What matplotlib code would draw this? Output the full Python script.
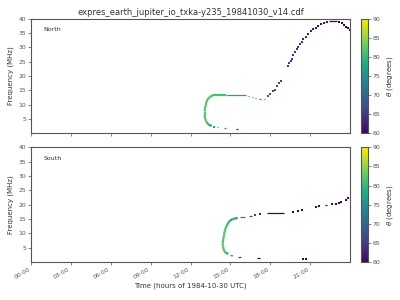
import numpy as np
import matplotlib
matplotlib.use('Agg')
import matplotlib.pyplot as plt
from matplotlib.collections import LineCollection
from matplotlib import colors, cm

title = 'expres_earth_jupiter_io_txka-y235_19841030_v14.cdf'
hour_ticks = [0, 3, 6, 9, 12, 15, 18, 21]
hour_labels = ['00:00', '03:00', '06:00', '09:00', '12:00', '15:00', '18:00', '21:00']
freq_ticks = [5, 10, 15, 20, 25, 30, 35, 40]
theta_ticks = [60, 65, 70, 75, 80, 85, 90]

# North: time (hours), frequency (MHz), theta (deg), run id (same id = connected)
north_time = [13.60, 13.39, 13.30, 13.22, 13.15, 13.09, 13.07, 13.07, 13.09, 13.15,
              13.19, 13.27, 13.34, 13.47, 13.60, 13.79, 14.67,
              14.67, 16.16,
              13.79, 14.00, 14.10, 14.55, 14.65, 15.40, 15.60,
              16.30, 16.42, 16.60, 16.70, 16.86, 16.96, 17.18, 17.28, 17.52, 17.60,
              17.81, 17.98, 18.23, 18.36, 18.53, 18.66, 18.79,
              19.36, 19.44, 19.54, 19.64, 19.74, 19.87, 19.99, 20.11, 20.24, 20.37,
              20.49, 20.67, 20.87, 21.07, 21.24, 21.44, 21.62, 21.82, 22.05, 22.25,
              22.45, 23.00,
              23.18, 23.38, 23.55, 23.70, 23.88, 24.00]
north_freq = [2.56, 2.90, 3.26, 3.85, 4.40, 5.25, 6.40, 7.56, 8.75, 9.90,
              10.85, 11.66, 12.25, 12.70, 13.16, 13.40, 13.40,
              13.40, 13.40,
              2.31, 2.10, 2.10, 1.86, 1.86, 1.50, 1.50,
              12.95, 12.95, 12.60, 12.60, 12.25, 12.25, 11.90, 11.90, 12.00, 12.00,
              13.15, 13.65, 14.90, 15.15, 16.55, 17.50, 18.30,
              23.66, 24.50, 25.30, 26.10, 27.20, 28.35, 29.40, 30.30, 31.26, 32.06,
              32.90, 33.70, 34.76, 35.70, 36.40, 36.96, 37.56, 38.15, 38.60, 38.85,
              39.20, 39.20,
              38.85, 38.50, 38.00, 37.30, 36.75, 36.05]
north_theta = [77, 78, 80, 81, 82, 82, 82, 82, 82, 82,
               82, 82, 82, 81, 81, 81, 81,
               78, 77,
               77, 77, 77, 76, 76, 63, 63,
               76, 76, 75, 75, 74, 74, 73, 73, 71, 71,
               69, 68, 67, 67, 66, 66, 66,
               65, 65, 65, 65, 64, 64, 64, 64, 64, 63,
               63, 63, 62, 62, 62, 61, 61, 61, 61, 61,
               60, 60,
               60, 60, 60, 60, 60, 60]
north_run = [0] * 17 + [1] * 2 + [2, 3, 3, 4, 4, 5, 5] + \
            [6, 6, 7, 7, 8, 8, 9, 9, 10, 10] + list(range(11, 18)) + \
            list(range(18, 38)) + [38, 38] + list(range(39, 45))

# South
south_time = [14.85, 14.72, 14.60, 14.50, 14.45, 14.42, 14.45, 14.50, 14.55, 14.60,
              14.67, 14.75, 14.85, 14.97, 15.15, 15.30, 15.55,
              15.75, 16.10, 16.43, 16.60, 16.85, 17.23,
              17.78, 19.03,
              19.74, 20.11, 20.41, 21.42, 21.70, 22.10, 22.25, 22.67, 22.95, 23.18,
              23.33, 23.70, 23.88,
              15.00, 15.20, 15.55, 15.80, 16.98, 17.23, 20.49, 20.69]
south_freq = [2.89, 3.13, 3.48, 4.28, 5.43, 6.60, 7.76, 8.90, 10.10, 11.23,
              12.17, 12.97, 13.80, 14.47, 14.95, 15.17, 15.40,
              15.65, 15.65, 16.10, 16.10, 16.35, 16.70,
              17.04, 17.04,
              17.40, 17.73, 18.08, 19.23, 19.58, 19.93, 19.93, 20.17, 20.40, 20.75,
              21.10, 21.80, 22.27,
              2.30, 2.19, 1.74, 1.74, 1.39, 1.39, 1.04, 1.04]
south_theta = [77, 78, 80, 82, 82, 82, 82, 82, 82, 82,
               81, 80, 79, 78, 77, 77, 76,
               73, 72, 67, 67, 65, 63,
               60, 60,
               60, 60, 60, 61, 60, 60, 60, 60, 60, 60,
               60, 60, 60,
               76, 76, 67, 67, 60, 60, 60, 60]
south_run = [0] * 17 + [1, 1, 2, 2, 3, 4] + [5, 5] + \
            [6, 7, 8, 9, 10, 11, 11, 12, 13, 14, 15, 16, 17] + \
            [18, 18, 19, 19, 20, 20, 21, 22]

cmap = plt.get_cmap('viridis')
norm = colors.Normalize(vmin=60, vmax=90)
grey = '#555555'
plt.rcParams['text.color'] = '#333333'
plt.rcParams['axes.labelcolor'] = '#333333'
plt.rcParams['xtick.color'] = grey
plt.rcParams['ytick.color'] = grey
plt.rcParams['axes.edgecolor'] = grey


def draw(ax, t, f, th, run, thick_runs):
    t = np.array(t); f = np.array(f); th = np.array(th, dtype=float); run = np.array(run)
    for r in np.unique(run):
        m = run == r
        if m.sum() == 1:
            ax.scatter(t[m], f[m], c=th[m], cmap=cmap, norm=norm, s=0.6,
                       marker='s', linewidths=0)
        else:
            pts = np.column_stack([t[m], f[m]])
            segs = np.stack([pts[:-1], pts[1:]], axis=1)
            lw = 1.6 if r in thick_runs else 0.9
            lc = LineCollection(segs, cmap=cmap, norm=norm, linewidths=lw,
                                capstyle='butt')
            lc.set_array((th[m][:-1] + th[m][1:]) / 2)
            ax.add_collection(lc)


fig = plt.figure(figsize=(4, 3), dpi=100)
ax1 = fig.add_axes([0.0775, 0.556, 0.7975, 0.381])
ax2 = fig.add_axes([0.0775, 0.126, 0.7975, 0.383])
cax1 = fig.add_axes([0.902, 0.556, 0.0175, 0.381])
cax2 = fig.add_axes([0.902, 0.126, 0.0175, 0.383])

draw(ax1, north_time, north_freq, north_theta, north_run, [0])
draw(ax2, south_time, south_freq, south_theta, south_run, [0])

for ax, name in [(ax1, 'North'), (ax2, 'South')]:
    ax.set_xlim(0, 24)
    ax.set_ylim(0, 40)
    ax.set_xticks(hour_ticks)
    ax.set_yticks(freq_ticks)
    ax.tick_params(labelsize=4.4, length=2, width=0.5, pad=1.5)
    ax.set_ylabel('Frequency (MHz)', fontsize=5, labelpad=3)
    ax.text(0.04, 0.89, name, transform=ax.transAxes, fontsize=4.5)
    for s in ax.spines.values():
        s.set_linewidth(0.8)

ax1.set_xticklabels([])
ax2.set_xticklabels(hour_labels, rotation=30, ha='right')
ax2.set_xlabel('Time (hours of 1984-10-30 UTC)', fontsize=5, labelpad=2)
ax1.set_title(title, fontsize=6, pad=3)

sm = cm.ScalarMappable(norm=norm, cmap=cmap)
for cax in [cax1, cax2]:
    cb = fig.colorbar(sm, cax=cax, ticks=theta_ticks)
    cb.ax.tick_params(labelsize=4.4, length=2, width=0.5, pad=1.5)
    cb.outline.set_edgecolor(grey)
    cb.outline.set_linewidth(0.8)
    cb.set_label(r'$\theta$ (degrees)', fontsize=5, labelpad=3)

fig.savefig('out.png', dpi=100)
